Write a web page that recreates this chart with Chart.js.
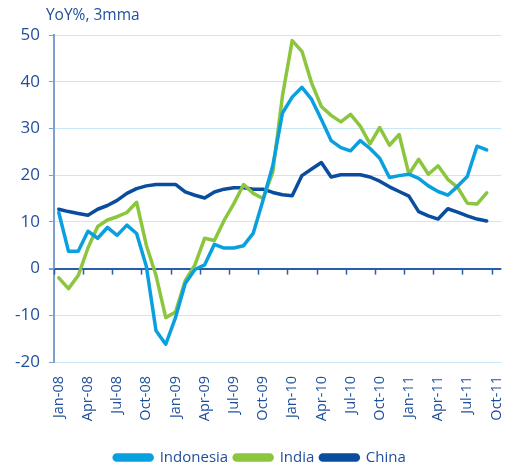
<!DOCTYPE html>
<html>
<head>
<meta charset="utf-8">
<script src="https://cdn.jsdelivr.net/npm/chart.js@4.4.1/dist/chart.umd.min.js"></script>
<style>
html,body{margin:0;padding:0;background:#fff;}
#wrap{position:relative;width:528px;height:468px;}
</style>
</head>
<body>
<div id="wrap"><canvas id="c"></canvas></div>
<script>
const months = ["Jan-08","Feb-08","Mar-08","Apr-08","May-08","Jun-08","Jul-08","Aug-08","Sep-08","Oct-08","Nov-08","Dec-08",
"Jan-09","Feb-09","Mar-09","Apr-09","May-09","Jun-09","Jul-09","Aug-09","Sep-09","Oct-09","Nov-09","Dec-09",
"Jan-10","Feb-10","Mar-10","Apr-10","May-10","Jun-10","Jul-10","Aug-10","Sep-10","Oct-10","Nov-10","Dec-10",
"Jan-11","Feb-11","Mar-11","Apr-11","May-11","Jun-11","Jul-11","Aug-11","Sep-11","Oct-11"];

const indonesia = [12.0,3.7,3.7,8.0,6.5,8.8,7.1,9.3,7.5,0.5,-13.3,-16.2,
-10.5,-3.2,-0.2,0.8,5.2,4.4,4.4,4.9,7.6,14.6,22.0,33.3,
36.7,38.8,36.2,31.9,27.4,25.9,25.2,27.4,25.7,23.6,19.5,19.9,
20.2,19.3,17.7,16.5,15.7,17.6,19.7,26.2,25.4];

const india = [-2.0,-4.3,-1.5,4.4,9.0,10.4,11.1,12.0,14.2,5.0,-1.5,-10.5,
-9.3,-2.6,0.8,6.5,6.0,10.3,13.9,18.0,16.1,15.0,20.6,37.0,
48.8,46.5,39.7,34.7,32.8,31.4,33.0,30.5,26.7,30.2,26.4,28.7,
20.2,23.4,20.2,22.0,19.1,17.4,14.0,13.8,16.2];

const china = [12.7,12.2,11.8,11.4,12.7,13.5,14.6,16.1,17.1,17.7,18.0,18.0,
18.0,16.4,15.7,15.1,16.4,17.0,17.3,17.3,17.0,17.0,16.3,15.8,
15.6,19.9,21.3,22.7,19.6,20.1,20.1,20.1,19.6,18.7,17.5,16.5,
15.5,12.2,11.3,10.6,12.8,12.1,11.3,10.6,10.2];

const yTitle = "YoY%, 3mma";
const TXT = "#1f4f9c";
const FONT = "'Open Sans', 'Noto Sans', sans-serif";

const extras = {
  id: 'extras',
  afterDraw(chart) {
    const ctx = chart.ctx, a = chart.chartArea;
    const xs = chart.scales.x, ys = chart.scales.y;
    ctx.save();
    ctx.fillStyle = TXT;
    ctx.font = "15.5px " + FONT;
    ctx.textAlign = 'left';
    ctx.textBaseline = 'middle';
    ctx.fillText(yTitle, a.left - 8, 16);
    const y0 = ys.getPixelForValue(0);
    const half = (xs.getPixelForValue(1) - xs.getPixelForValue(0)) / 2;
    ctx.strokeStyle = "#2a5ca8";
    ctx.lineWidth = 1.5;
    for (let i = 0; i < months.length; i += 3) {
      const x = Math.round(xs.getPixelForValue(i) - half) + 0.5;
      ctx.beginPath();
      ctx.moveTo(x, y0);
      ctx.lineTo(x, y0 + 6);
      ctx.stroke();
    }
    ctx.restore();
  }
};

const mk = (label, data, color) => ({
  label, data, borderColor: color, backgroundColor: color,
  borderWidth: 3.5, pointRadius: 0, tension: 0, fill: false,
  borderJoinStyle: 'round', borderCapStyle: 'round'
});

new Chart(document.getElementById('c'), {
  type: 'line',
  data: {
    labels: months,
    datasets: [
      mk('Indonesia', indonesia, '#0aa0e0'),
      mk('India', india, '#8cc63e'),
      mk('China', china, '#0a4c9e')
    ]
  },
  options: {
    responsive: true,
    maintainAspectRatio: false,
    animation: false,
    layout: { padding: { left: 6, right: 14, top: 35, bottom: -7 } },
    plugins: {
      title: { display: false },
      tooltip: { enabled: false },
      legend: {
        position: 'bottom',
        labels: {
          color: TXT,
          font: { family: FONT, size: 15 },
          boxWidth: 38, boxHeight: 5,
          useBorderRadius: true, borderRadius: 2.5,
          padding: 6
        }
      }
    },
    scales: {
      x: {
        type: 'category',
        offset: true,
        grid: { offset: true, drawOnChartArea: false, drawTicks: false },
        border: { display: false },
        afterFit: (s) => { s.height = 82; },
        ticks: {
          autoSkip: false, maxRotation: 90, minRotation: 90,
          color: TXT, font: { family: FONT, size: 14.5 }, padding: 14,
          callback: (v, i) => (i % 3 === 0 ? months[i] : '')
        }
      },
      y: {
        min: -20, max: 50,
        ticks: { stepSize: 10, color: TXT, font: { family: FONT, size: 17 }, padding: 9 },
        grid: {
          color: (c) => (c.tick && c.tick.value === 0 ? '#2a5ca8' : '#c8e8f6'),
          lineWidth: (c) => (c.tick && c.tick.value === 0 ? 2 : 1),
          tickColor: '#7f9fcf', tickLength: 5
        },
        border: { color: '#7f9fcf', width: 2 }
      }
    }
  },
  plugins: [extras]
});
</script>
</body>
</html>
